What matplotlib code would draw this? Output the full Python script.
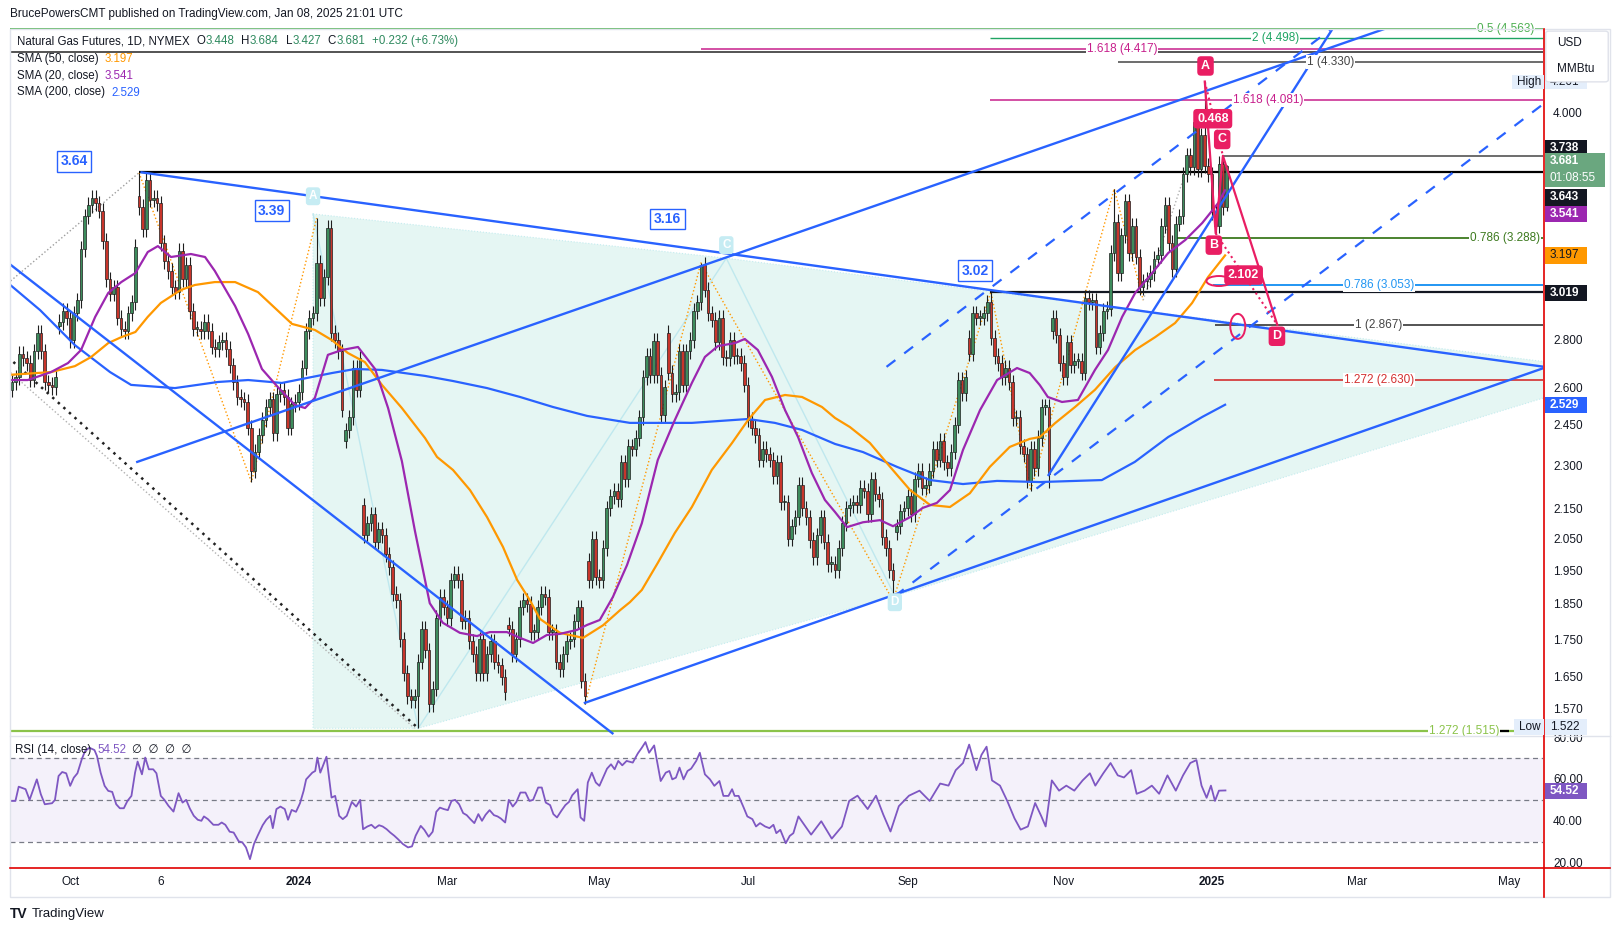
import matplotlib
matplotlib.use("Agg")
import numpy as np
import matplotlib.pyplot as plt
from matplotlib.patches import Polygon, Ellipse, Rectangle, FancyBboxPatch
from matplotlib.transforms import IdentityTransform
from matplotlib.ticker import NullLocator, NullFormatter

plt.rcParams['font.family'] = ['Liberation Sans', 'DejaVu Sans']

# ---------------------------------------------------------------- dados
# barras diarias, 0 = 02/01/2024 ; primeira barra visivel = -79
bar0 = -79
closes = [
    2.62, 2.64, 2.74, 2.72, 2.70, 2.63, 2.75, 2.83, 2.75, 2.62, 2.61, 2.60, 2.64,
    2.88, 2.93, 2.90, 2.80, 2.92, 2.98, 3.23, 3.40, 3.46, 3.50, 3.47, 3.43, 3.27, 3.08,
    3.01, 3.04, 2.90, 2.85, 2.84, 2.92, 2.97, 3.24, 3.45, 3.33, 3.60, 3.49, 3.50, 3.47,
    3.26, 3.17, 3.12, 3.04, 3.02, 3.22, 3.08, 3.15, 2.93, 2.85, 2.85, 2.84, 2.88, 2.84,
    2.77, 2.76, 2.79,
    2.80, 2.76, 2.69, 2.62, 2.56, 2.55, 2.54, 2.44, 2.28, 2.35, 2.41, 2.47, 2.52, 2.55,
    2.42, 2.57, 2.59, 2.56, 2.44, 2.53, 2.54, 2.58, 2.68, 2.84, 2.90, 2.92, 3.16, 2.99,
    3.09, 3.34, 2.83, 2.80, 2.75, 2.51, 2.43, 2.48, 2.68, 2.59, 2.72, 2.06, 2.10, 2.13,
    2.04, 2.08, 2.06, 2.00, 1.96, 1.88, 1.86, 1.75, 1.66, 1.60, 1.59, 1.60, 1.69, 1.78,
    1.72, 1.58, 1.62, 1.81, 1.87, 1.84, 1.81, 1.92, 1.94, 1.92, 1.80, 1.81, 1.745, 1.71,
    1.66, 1.75, 1.66, 1.71, 1.745, 1.69, 1.68, 1.65, 1.61, 1.78, 1.71, 1.75, 1.84, 1.86,
    1.85, 1.77, 1.77, 1.84, 1.88, 1.87, 1.77, 1.77, 1.69, 1.67, 1.71, 1.745, 1.75, 1.80,
    1.84, 1.64, 1.60, 1.92, 2.05, 1.93, 1.92, 2.02, 2.15, 2.19, 2.21, 2.18, 2.31, 2.25, 2.37,
    2.36, 2.40, 2.48, 2.64, 2.73, 2.65, 2.795, 2.65, 2.49, 2.60, 2.66, 2.57, 2.58, 2.75,
    2.61, 2.75, 2.80, 2.93, 2.97, 3.15, 3.03, 2.92, 2.89, 2.79, 2.90, 2.725, 2.72, 2.80,
    2.73, 2.73, 2.70, 2.61, 2.47, 2.44, 2.41, 2.32, 2.36, 2.34, 2.32, 2.26, 2.31, 2.17,
    2.17, 2.05, 2.09, 2.12, 2.23, 2.15, 2.12, 2.045, 1.99, 2.06, 2.12, 2.04, 1.97, 1.97,
    1.95, 2.02, 2.10, 2.15, 2.16, 2.17, 2.16, 2.22, 2.21, 2.13, 2.25, 2.20, 2.18, 2.055,
    2.02, 1.95, 1.92, 2.09, 2.14, 2.15, 2.19, 2.13, 2.25, 2.28, 2.22, 2.23, 2.28, 2.36,
    2.32, 2.39, 2.31, 2.29, 2.35, 2.45, 2.63, 2.575, 2.64, 2.74, 2.92, 2.90, 2.90, 2.92,
    2.97, 2.81, 2.73, 2.70, 2.64, 2.68, 2.62, 2.475, 2.48, 2.37, 2.34, 2.245, 2.36, 2.29, 2.40,
    2.52, 2.52, 2.27, 2.90, 2.82, 2.70, 2.64, 2.79, 2.69, 2.71, 2.71, 2.66, 2.99, 2.97,
    2.98, 2.77, 2.83, 2.93, 2.94, 3.21, 3.37, 3.11, 3.30, 3.48, 3.21, 3.35, 3.19, 3.04,
    3.07, 3.08, 3.11, 3.18, 3.20, 3.35, 3.46, 3.26, 3.13, 3.36, 3.40,
    3.63, 3.74, 3.67, 3.94, 3.66, 3.86, 3.68, 3.63, 3.42, 3.35, 3.69, 3.449, 3.681,
]
gap_opens = {-79: 2.59, -66: 2.86, -44: 3.51, 13: 2.39, 18: 2.16, 58: 1.79, 80: 1.98,
             102: 2.83, 165: 2.07, 185: 2.81, 208: 2.84, 256: 3.448}
pivot_highs = {-44: 3.64, 5: 3.39, 111: 3.16, 191: 3.02, 225: 3.55, 247: 3.98,
               250: 4.20, 255: 3.738, 256: 3.684}
pivot_lows = {-13: 2.24, 33: 1.522, 79: 1.58, 164: 1.86, 202: 2.21, 207: 2.22,
              253: 3.31, 256: 3.427}

sma20_bar = [-80.2, -74.7, -68.3, -63.6, -60.0, -56.1, -52.5, -48.9, -45.0, -41.6,
             -38.8, -35.2, -29.7, -25.8, -23.1, -17.5, -13.9, -10.1, -5.7, -1.0,
             1.8, 4.5, 8.1, 12.0, 16.4, 21.1, 24.7, 28.5, 32.1, 36.2,
             39.8, 44.5, 49.2, 52.8, 57.5, 61.1, 64.7, 68.5, 72.1, 76.8,
             79.6, 83.1, 86.7, 90.6, 94.7, 99.1, 103.8, 108.5, 112.1, 115.7,
             120.4, 123.1, 126.7, 130.6, 134.2, 137.8, 141.6, 145.2, 148.0, 151.3,
             155.7, 160.4, 164.0, 168.7, 172.2, 176.1, 179.7, 183.3, 188.0, 192.7,
             198.2, 201.7, 204.5, 206.7, 210.6, 215.0, 219.7, 223.3, 227.2, 230.8,
             235.5, 239.9, 244.6, 249.3, 253.7, 255.6]
sma20_val = [2.629, 2.629, 2.662, 2.700, 2.756, 2.903, 3.014, 3.066, 3.110, 3.214,
             3.244, 3.189, 3.204, 3.189, 3.120, 2.953, 2.826, 2.675, 2.600, 2.528,
             2.516, 2.556, 2.735, 2.756, 2.769, 2.675, 2.516, 2.315, 2.075, 1.852,
             1.796, 1.768, 1.759, 1.770, 1.770, 1.754, 1.740, 1.762, 1.765, 1.776,
             1.790, 1.804, 1.870, 1.966, 2.100, 2.319, 2.469, 2.617, 2.726, 2.773,
             2.786, 2.804, 2.756, 2.642, 2.508, 2.404, 2.272, 2.178, 2.137, 2.087,
             2.103, 2.110, 2.090, 2.120, 2.151, 2.168, 2.212, 2.356, 2.508, 2.629,
             2.679, 2.658, 2.608, 2.560, 2.540, 2.548, 2.671, 2.756, 2.903, 3.014,
             3.110, 3.209, 3.275, 3.364, 3.471, 3.541]

sma50_bar = [-80.2, -68.3, -61.7, -57.2, -52.5, -48.9, -45.0, -41.6, -38.0, -32.5,
             -28.6, -23.1, -17.5, -11.2, -1.8, 4.5, 9.2, 13.6, 18.3, 23.0,
             28.5, 34.9, 38.2, 42.6, 47.3, 52.0, 56.4, 60.3, 63.8, 66.6,
             72.1, 78.5, 84.0, 88.7, 91.4, 94.7, 99.1, 103.8, 108.5, 114.0,
             119.6, 124.0, 128.7, 134.2, 138.9, 144.4, 148.0, 152.1, 157.6, 163.2,
             168.7, 174.2, 179.7, 185.2, 190.7, 196.2, 201.7, 204.5, 208.7, 214.2,
             219.7, 225.3, 230.8, 236.3, 241.8, 246.5, 250.9, 255.6]
sma50_val = [2.650, 2.662, 2.687, 2.726, 2.786, 2.812, 2.835, 2.903, 2.967, 3.028,
             3.052, 3.066, 3.066, 3.018, 2.871, 2.844, 2.799, 2.743, 2.704, 2.609,
             2.516, 2.400, 2.330, 2.283, 2.212, 2.120, 2.023, 1.921, 1.861, 1.807,
             1.768, 1.754, 1.789, 1.832, 1.855, 1.891, 1.973, 2.068, 2.154, 2.283,
             2.382, 2.469, 2.548, 2.568, 2.560, 2.520, 2.477, 2.442, 2.382, 2.294,
             2.212, 2.161, 2.154, 2.201, 2.294, 2.367, 2.397, 2.404, 2.457, 2.520,
             2.589, 2.683, 2.756, 2.812, 2.875, 2.967, 3.090, 3.197]

sma200_bar = [-80.2, -71.3, -61.7, -52.0, -46.2, -34.1, -22.2, -13.9, -4.6, 9.2,
              15.6, 23.0, 34.9, 42.6, 52.0, 61.1, 70.2, 79.6, 91.4, 108.5,
              124.0, 131.4, 138.9, 148.0, 155.7, 165.1, 174.2, 183.3, 192.7, 204.5,
              221.6, 230.7, 239.9, 249.3, 255.6]
sma200_val = [3.062, 2.934, 2.777, 2.662, 2.609, 2.596, 2.621, 2.629, 2.617, 2.658,
              2.675, 2.671, 2.646, 2.625, 2.596, 2.560, 2.520, 2.485, 2.458, 2.458,
              2.473, 2.458, 2.431, 2.378, 2.348, 2.294, 2.247, 2.233, 2.244, 2.240,
              2.247, 2.312, 2.404, 2.481, 2.529]

rsi_bar = [-79.3, -78.1, -77.2, -75.3, -74.2, -72.2, -71.1, -70.0, -68.0, -67.2,
           -66.2, -65.2, -64.1, -63.0, -62.0, -61.0, -59.8, -58.9, -57.7, -56.3,
           -55.6, -54.6, -53.5, -52.5, -51.4, -50.3, -49.3, -48.2, -47.2, -46.1,
           -45.1, -44.4, -43.2, -42.3, -41.3, -40.1, -39.2, -38.0, -37.0, -35.9,
           -34.5, -33.1, -32.0, -31.0, -30.0, -28.9, -27.8, -26.8, -26.1, -25.0,
           -23.5, -22.1, -21.2, -20.2, -19.0, -17.9, -16.5, -15.5, -14.5, -13.4,
           -12.3, -11.3, -9.9, -8.9, -7.8, -7.1, -6.1, -5.0, -3.8, -2.9,
           -1.9, -0.7, 0.4, 1.4, 2.1, 3.8, 4.6, 5.2, 6.0, 7.7,
           9.1, 10.1, 11.2, 12.2, 13.3, 14.7, 15.9, 17.0, 17.8, 19.0,
           20.1, 21.1, 22.2, 23.2, 24.3, 25.3, 26.4, 27.4, 28.8, 30.2,
           31.3, 32.3, 33.7, 34.7, 35.9, 37.0, 38.0, 39.0, 40.1, 41.2,
           42.2, 43.2, 44.3, 45.4, 46.4, 47.4, 48.5, 49.6, 50.6, 51.6,
           52.7, 53.9, 54.9, 55.8, 57.0, 58.0, 59.1, 60.1, 61.2, 62.6,
           63.7, 64.7, 66.1, 67.1, 68.2, 69.4, 70.3, 71.3, 72.5, 73.6,
           74.6, 75.5, 77.0, 77.8, 78.8, 79.8, 80.9, 82.0, 83.0, 84.0,
           85.1, 86.2, 87.2, 88.2, 89.3, 90.5, 92.2, 93.6, 94.7, 95.7,
           96.7, 98.1, 99.9, 101.3, 102.3, 103.1, 104.1, 105.1, 106.2, 107.3,
           108.3, 109.7, 110.7, 112.1, 113.5, 114.7, 116.1, 117.2, 118.6, 119.6,
           120.3, 121.4, 122.8, 123.8, 125.2, 126.2, 127.3, 128.7, 129.9, 131.0,
           131.8, 132.9, 134.4, 135.5, 136.5, 137.9,
           141.4, 144.2, 147.1, 149.9, 151.9, 154.2, 157.0, 159.3, 161.3, 163.3,
           165.6, 168.4, 171.3, 174.1, 177.0, 179.3, 181.3, 183.3, 185.0, 187.0,
           188.4, 189.8, 191.3, 193.5, 195.5, 197.5, 199.2, 201.2, 203.2, 204.9,
           206.1, 207.8, 209.8, 211.8, 214.0, 216.3, 218.3, 219.8, 222.0, 224.0,
           226.0, 227.7, 229.7, 231.2, 233.4, 235.4, 237.4, 239.7, 242.0, 244.0,
           246.0, 247.7, 249.1, 250.5, 251.7, 252.8, 253.9, 255.7]
rsi_val = [49.5, 49.5, 56.3, 55.1, 50.0, 59.8, 52.7, 47.9, 48.4, 50.0,
           61.4, 63.3, 62.7, 56.7, 60.6, 62.7, 69.4, 73.3, 74.9, 73.8,
           70.9, 63.0, 56.7, 54.3, 53.8, 47.9, 46.0, 46.0, 49.5, 51.9,
           63.0, 68.3, 62.2, 70.2, 64.6, 64.6, 62.7, 51.9, 50.0, 47.2,
           44.4, 53.2, 48.7, 50.0, 45.9, 42.4, 40.5, 40.0, 42.1, 40.8,
           38.1, 38.1, 39.2, 38.1, 34.8, 34.4, 30.2, 29.7, 27.3, 21.7,
           28.9, 32.8, 37.9, 40.5, 42.4, 36.5, 45.6, 46.8, 45.6, 40.5,
           45.2, 44.3, 48.4, 54.3, 59.8, 63.0, 63.8, 70.2, 63.0, 70.6,
           51.1, 51.9, 42.4, 40.8, 42.4, 49.0, 46.8, 50.0, 36.0, 37.3,
           38.1, 36.5, 37.9, 37.3, 36.0, 34.4, 32.9, 31.3, 28.9, 27.3,
           27.8, 32.9, 37.6, 35.7, 32.4, 34.8, 44.3, 46.3, 45.6, 45.1,
           49.5, 50.0, 47.9, 43.7, 42.7, 40.8, 38.9, 43.2, 40.0, 42.9,
           45.1, 42.7, 42.1, 41.1, 39.2, 50.0, 46.8, 49.0, 53.5, 53.5,
           49.5, 50.0, 55.9, 55.9, 48.7, 47.5, 43.2, 41.6, 44.8, 47.5,
           49.0, 52.2, 55.1, 41.6, 40.0, 58.3, 63.0, 58.3, 56.7, 60.6,
           64.9, 67.0, 64.6, 68.6, 66.5, 68.6, 67.8, 72.2, 74.9, 77.6,
           72.5, 76.0, 59.0, 63.0, 63.8, 59.8, 60.6, 65.4, 59.8, 63.8,
           64.9, 68.6, 72.5, 62.2, 59.8, 56.7, 59.0, 51.9, 51.9, 55.1,
           51.9, 51.9, 46.3, 42.1, 40.8, 37.3, 38.9, 37.3, 36.5, 38.1,
           34.1, 35.7, 29.3, 32.8, 34.1, 42.1,
           33.4, 39.8, 31.5, 37.3, 49.5, 52.0, 45.6, 52.0, 43.0, 34.9,
           47.0, 52.0, 54.4, 49.5, 57.8, 56.8, 64.2, 67.6, 76.4, 64.2,
           71.5, 75.4, 59.3, 56.8, 49.5, 41.2, 35.8, 37.3, 48.5, 42.2,
           37.3, 59.3, 54.4, 56.8, 54.4, 59.3, 62.7, 56.8, 62.7, 67.6,
           61.7, 60.7, 64.2, 52.9, 54.4, 56.8, 52.9, 61.7, 54.4, 61.7,
           67.6, 69.0, 56.8, 51.0, 56.8, 49.5, 54.4, 54.5]

time_ticks = [-63, -38, 0, 41, 83, 124, 168, 211, 252, 292, 334]
time_labels = ["Oct", "6", "2024", "Mar", "May", "Jul", "Sep", "Nov", "2025", "Mar", "May"]
price_ticks = [4.0, 2.8, 2.6, 2.45, 2.3, 2.15, 2.05, 1.95, 1.85, 1.75, 1.65, 1.57]
rsi_ticks = [20, 40, 60, 80]

# niveis horizontais (preco, barra inicial, cor, espessura)
levels = [(4.563, -79.6, '#4caf50', 1.2), (4.498, 190.7, '#1fa463', 1.0),
          (4.417, 110.9, '#c71f8c', 1.1), (4.40, -79.6, '#454545', 1.3),
          (4.330, 226.0, '#454545', 1.1), (4.081, 190.7, '#c71f8c', 1.1),
          (3.738, 255.0, '#454545', 1.1), (3.643, -44.0, '#000000', 1.6),
          (3.288, 242.2, '#3d7a1f', 1.3), (3.053, 252.3, '#2196f3', 1.4),
          (3.019, 190.7, '#131722', 1.6), (2.867, 252.8, '#454545', 1.3),
          (2.630, 252.5, '#d32f2f', 1.2), (1.515, -79.6, '#8bc34a', 1.6)]
level_labels = [(332.9, 4.563, "0.5 (4.563)", '#4caf50'), (269.6, 4.498, "2 (4.498)", '#1fa463'),
                (227.2, 4.417, "1.618 (4.417)", '#c71f8c'), (284.7, 4.330, "1 (4.330)", '#454545'),
                (267.4, 4.081, "1.618 (4.081)", '#c71f8c'), (332.8, 3.288, "0.786 (3.288)", '#3d7a1f'),
                (298.1, 3.053, "0.786 (3.053)", '#2196f3'), (298.0, 2.867, "1 (2.867)", '#454545'),
                (298.0, 2.630, "1.272 (2.630)", '#d32f2f'), (321.5, 1.515, "1.272 (1.515)", '#8bc34a')]

# linhas de tendencia (barra0, preco0, barra1, preco1)
trend_solid = [(-43.3, 3.642, 343.7, 2.684), (79.0, 1.584, 343.7, 2.680),
               (-44.5, 2.312, 299.6, 4.562), (-79.7, 3.154, 86.6, 1.510),
               (206.9, 2.265, 285.4, 4.569)]
trend_dashed = [(162.2, 2.684, 284.5, 4.554), (164.5, 1.873, 343.7, 4.06)]

zig_bar = [-44, -13, 5]
zig_val = [3.64, 2.24, 3.39]
zig2_bar = [79, 111, 164, 191, 202, 225, 233]
zig2_val = [1.58, 3.16, 1.86, 3.02, 2.21, 3.55, 2.98]

xabcd_bar = [4.0, 118.0, 343.7, 343.7, 164.5, 33.0, 4.0]
xabcd_val = [3.412, 3.183, 2.706, 2.557, 1.873, 1.522, 1.522]

abcd_bar = [250, 253, 255, 270]
abcd_val = [4.20, 3.31, 3.738, 2.867]

swing_labels = [(-61.9, 3.707, "3.64"), (-7.4, 3.429, "3.39"), (101.8, 3.385, "3.16"), (186.7, 3.12, "3.02")]

# ---------------------------------------------------------------- figura
W, H = 1620, 931
fig = plt.figure(figsize=(W / 100, H / 100), dpi=100)
fig.patch.set_facecolor('white')


def fx(px):
    return px / W


def fy(py):
    return 1 - py / H


X0, X1 = -79.6, 343.3
ax = fig.add_axes([fx(10), fy(735), fx(1543) - fx(10), fy(30) - fy(735)])
rx = fig.add_axes([fx(10), fy(868), fx(1543) - fx(10), fy(736) - fy(868)])
for a in (ax, rx):
    a.set_xlim(X0, X1)
    a.set_facecolor('white')
    for s in a.spines.values():
        s.set_visible(False)

ax.set_yscale('log')
ax.set_ylim(1.506, 4.554)
ax.yaxis.tick_right()
ax.set_yticks(price_ticks)
ax.set_yticklabels([f"{v:.3f}" for v in price_ticks])
ax.yaxis.set_minor_locator(NullLocator())
ax.yaxis.set_minor_formatter(NullFormatter())
ax.tick_params(axis='y', length=0, pad=7.2, labelsize=8.5, colors='#131722')
ax.set_xticks([])

# triangulo / XABCD sombreado
ax.add_patch(Polygon(np.c_[xabcd_bar, xabcd_val], closed=True, fc='#e5f6f3', ec='#c4ecef',
                     lw=0.8, ls=':', zorder=0.5))
for i0, i1 in [(0, 5), (5, 1), (1, 4)]:
    ax.plot([xabcd_bar[i0], xabcd_bar[i1]], [xabcd_val[i0], xabcd_val[i1]], color='#bfe8ee', lw=1, zorder=0.6)

# linhas pontilhadas auxiliares
ax.plot([-80.2, -44], [3.06, 3.64], color='#9e9e9e', lw=1, ls=':', zorder=1)
ax.plot([-80.2, 33], [2.726, 1.522], color='#222222', lw=1.8, ls=(0, (1, 2)), zorder=1)
ax.plot([-80.2, 32], [2.67, 1.522], color='#b0b0b0', lw=1, ls=':', zorder=1)
ax.plot(zig_bar, zig_val, color='#ff9800', lw=1, ls=':', zorder=1)
ax.plot(zig2_bar, zig2_val, color='#ff9800', lw=1, ls=':', zorder=1)
ax.plot([233, 244], [2.98, 3.60], color='#b0b0b0', lw=1, ls=':', zorder=1)

# niveis
for p, b, col, lw in levels:
    ax.hlines(p, b, X1, color=col, lw=lw, zorder=2, clip_on=False)
ax.hlines(1.515, 320.9, 334.0, color='#000000', lw=1.6, zorder=2)

# velas
c = np.array(closes)
bars = np.arange(bar0, bar0 + len(c))
o = np.r_[c[0], c[:-1]]
for b, v in gap_opens.items():
    o[b - bar0] = v
hi = np.maximum(o, c) * 1.012
lo = np.minimum(o, c) * 0.988
for b, v in pivot_highs.items():
    hi[b - bar0] = v
for b, v in pivot_lows.items():
    lo[b - bar0] = v
up = c >= o
ax.vlines(bars, lo, hi, color='#1e1e1e', lw=0.8, zorder=3)
ax.bar(bars, np.maximum(np.abs(c - o), 0.006), bottom=np.minimum(o, c), width=0.72,
       color=['#3d8c5c' if u else '#c8352b' for u in up], edgecolor='#1e1e1e', lw=0.5, zorder=4)

# medias moveis
ax.plot(sma200_bar, sma200_val, color='#2962ff', lw=1.6, zorder=5)
ax.plot(sma50_bar, sma50_val, color='#ff9800', lw=1.6, zorder=5)
ax.plot(sma20_bar, sma20_val, color='#9c27b0', lw=1.6, zorder=5)

# linhas de tendencia
for b0, p0, b1, p1 in trend_solid:
    ax.plot([b0, b1], [p0, p1], color='#2962ff', lw=1.7, zorder=6)
for b0, p0, b1, p1 in trend_dashed:
    ax.plot([b0, b1], [p0, p1], color='#2962ff', lw=1.6, ls=(0, (5, 5)), zorder=6)

# ABCD
ax.plot(abcd_bar, abcd_val, color='#e91e63', lw=1.6, zorder=7)
ax.plot([abcd_bar[0], abcd_bar[2]], [abcd_val[0], abcd_val[2]], color='#e91e63', lw=1.5, ls=':', zorder=7)
ax.plot([abcd_bar[1], abcd_bar[3]], [abcd_val[1], abcd_val[3]], color='#e91e63', lw=1.5, ls=':', zorder=7)

for b, p, t in [(250.2, 4.304, "A"), (252.5, 3.249, "B"), (254.8, 3.835, "C"), (269.9, 2.816, "D"),
                (252.2, 3.962, "0.468"), (260.7, 3.100, "2.102")]:
    ax.text(b, p, t, color='white', fontsize=9, fontweight='bold', ha='center', va='center', zorder=9,
            bbox=dict(boxstyle='round,pad=0.3', fc='#e91e63', ec='none'))

for b, p, t in [(4.0, 3.508, "A"), (118.0, 3.249, "C"), (164.5, 1.855, "D")]:
    ax.text(b, p, t, color='white', fontsize=8.5, fontweight='bold', ha='center', va='center', zorder=8,
            bbox=dict(boxstyle='round,pad=0.25', fc='#c6ecf3', ec='none'))

for b, p, t in swing_labels:
    ax.text(b, p, t, color='#2962ff', fontsize=10, fontweight='bold', ha='center', va='center', zorder=8,
            bbox=dict(boxstyle='square,pad=0.25', fc='white', ec='#2962ff', lw=1))

for b, p, t, col in level_labels:
    ax.text(b, p, t, color=col, fontsize=8.5, ha='center', va='center', zorder=8, clip_on=False,
            bbox=dict(fc='white', ec='none', pad=0.6))

# elipses desenhadas a mao
for b, v, w, h in [(253.9, 3.071, 25, 10), (259.1, 2.86, 15, 25)]:
    cx, cy = ax.transData.transform((b, v))
    fig.add_artist(Ellipse((cx, cy), w, h, transform=IdentityTransform(), fill=False,
                           ec='#e91e63', lw=1.4, zorder=4))

# RSI
rx.set_ylim(17.47, 80.5)
rx.axhspan(30, 70, color='#7e57c2', alpha=0.08, lw=0, zorder=0)
for v in (70, 50, 30):
    rx.axhline(v, color='#787b86', lw=0.9, ls=(0, (4, 3)), zorder=1)
rx.plot(rsi_bar, rsi_val, color='#7e57c2', lw=1.3, zorder=3)
rx.yaxis.tick_right()
rx.set_yticks(rsi_ticks)
rx.set_yticklabels([f"{v:.2f}" for v in rsi_ticks])
rx.tick_params(axis='y', length=0, pad=7.2, labelsize=8.5, colors='#131722')
rx.set_xticks(time_ticks)
rx.set_xticklabels(time_labels)
rx.tick_params(axis='x', length=0, pad=5.5, labelsize=8.5, colors='#131722')
for t in rx.get_xticklabels():
    if t.get_text() in ("2024", "2025"):
        t.set_fontweight('bold')

# moldura e linhas vermelhas
fig.add_artist(Rectangle((fx(10), fy(897)), fx(1610) - fx(10), (897 - 29) / H, transform=fig.transFigure,
                         fill=False, ec='#e0e3eb', lw=1, zorder=1))
fig.add_artist(plt.Line2D([fx(10), fx(1610)], [fy(735.5), fy(735.5)], color='#e0e3eb', lw=1, zorder=1))
fig.add_artist(plt.Line2D([fx(1543.5), fx(1543.5)], [fy(29), fy(897)], color='#e00000', lw=1.2, zorder=3))
fig.add_artist(plt.Line2D([fx(10), fx(1610)], [fy(868), fy(868)], color='#e00000', lw=1.2, zorder=3))


# etiquetas no eixo de precos
def tag(y, txt, fc, tc, h=16, x0=1545, x1=1587, weight='bold', z=6):
    fig.add_artist(Rectangle((fx(x0), fy(y + h / 2)), fx(x1) - fx(x0), h / H, transform=fig.transFigure,
                             fc=fc, ec='none', zorder=z))
    fig.text(fx(x0 + 5), fy(y), txt, color=tc, fontsize=8.5, fontweight=weight,
             ha='left', va='center', zorder=z + 0.5)


tag(82, "4.201", '#e4eefb', '#131722', h=14, weight='normal')
tag(81.5, "High", '#e4eefb', '#131722', h=14, x0=1512, x1=1544, weight='normal')
fig.add_artist(FancyBboxPatch((fx(1549), fy(80)), fx(1605) - fx(1549), 47 / H, transform=fig.transFigure,
                              boxstyle='round,pad=0.002', fc='white', ec='#dfe2ea', lw=1, zorder=8))
fig.text(fx(1557), fy(43.5), "USD", fontsize=8.5, color='#131722', va='center', zorder=9)
fig.text(fx(1557), fy(69.5), "MMBtu", fontsize=8.5, color='#131722', va='center', zorder=9)

tag(148.3, "3.738", '#131722', 'white')
fig.add_artist(Rectangle((fx(1545), fy(187)), fx(1605) - fx(1545), 34 / H, transform=fig.transFigure,
                         fc='#6aa77f', ec='none', zorder=6))
fig.text(fx(1550), fy(161.5), "3.681", color='white', fontsize=8.5, fontweight='bold', va='center', zorder=7)
fig.text(fx(1550), fy(178), "01:08:55", color='white', fontsize=8.5, va='center', zorder=7)
tag(197.5, "3.643", '#131722', 'white')
tag(214, "3.541", '#9c27b0', 'white')
tag(255.5, "3.197", '#ff9800', '#131722', weight='normal')
tag(292.5, "3.019", '#131722', 'white')
tag(405.3, "2.529", '#2962ff', 'white')
tag(727, "Low", '#e4eefb', '#131722', x0=1514, x1=1544, weight='normal')
tag(727, "1.522", '#e4eefb', '#131722', weight='normal')
tag(791, "54.52", '#7e57c2', 'white')

# textos de cabecalho e legenda
renderer = fig.canvas.get_renderer()


def rich(x, y, parts, size=8.3):
    for txt, col, gap in parts:
        t = fig.text(fx(x), fy(y), txt, color=col, fontsize=size, ha='left', va='center', zorder=10)
        x += t.get_window_extent(renderer).width + gap


fig.text(fx(10), fy(14.5), "BrucePowersCMT published on TradingView.com, Jan 08, 2025 21:01 UTC",
         fontsize=8.5, color='#131722', va='center')
g = '#2f8a5f'
rich(17, 41.3, [("Natural Gas Futures, 1D, NYMEX", '#131722', 7), ("O", '#131722', 0), ("3.448", g, 7),
                ("H", '#131722', 0), ("3.684", g, 7), ("L", '#131722', 0), ("3.427", g, 7),
                ("C", '#131722', 0), ("3.681", g, 7), ("+0.232 (+6.73%)", g, 0)])
rich(17, 58.8, [("SMA (50, close)", '#131722', 6), ("3.197", '#ff9800', 0)])
rich(17, 75.7, [("SMA (20, close)", '#131722', 6), ("3.541", '#9c27b0', 0)])
rich(17, 92.5, [("SMA (200, close)", '#131722', 6), ("2.529", '#2962ff', 0)])
rich(15, 750, [("RSI (14, close)", '#131722', 6), ("54.52", '#7e57c2', 6),
               ("\u2205  \u2205  \u2205  \u2205", '#131722', 0)])

fig.text(fx(10), fy(914), "TV", fontsize=10, fontweight='bold', color='#131722', va='center')
fig.text(fx(32), fy(914), "TradingView", fontsize=9.5, color='#131722', va='center')

fig.savefig("out.png", dpi=100, facecolor='white')
